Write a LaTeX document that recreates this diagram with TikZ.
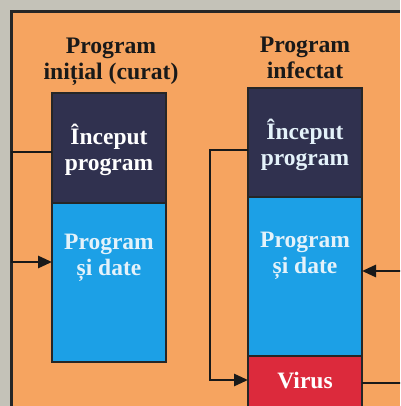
\documentclass[tikz,border=0pt]{standalone}
\usepackage{fontspec}
\setmainfont{Liberation Serif}
\usetikzlibrary{arrows.meta}
\definecolor{bgorange}{HTML}{F6A460}
\definecolor{graystrip}{HTML}{C4C2B8}
\definecolor{navybox}{HTML}{30314F}
\definecolor{bluebox}{HTML}{1CA0E6}
\definecolor{redbox}{HTML}{DC2A3C}
\definecolor{paletext}{HTML}{E4F2FA}
\tikzset{
  box/.style={draw=black!85, line width=1.2pt, minimum width=114pt, inner sep=0pt, outer sep=0pt},
  boxtext/.style={font=\fontsize{23.5}{26}\selectfont\bfseries, align=center, inner sep=0pt},
  title/.style={font=\fontsize{23.7}{26}\selectfont\bfseries, align=center, text=black!90, inner sep=0pt},
  conn/.style={line width=2.8pt, black!90},
  arr/.style={conn, -{Triangle[length=14pt,width=12pt]}}
}
\begin{document}
\begin{tikzpicture}[x=1pt,y=-1pt]
\useasboundingbox (0,0) rectangle (400,406);
\clip (0,0) rectangle (400,406);
% background
\fill[bgorange] (0,0) rectangle (400,406);
\fill[graystrip] (0,0) rectangle (400,10);
\fill[graystrip] (0,0) rectangle (10,406);
\draw[line width=2.5pt, black!85] (11.5,406) -- (11.5,11.5) -- (400,11.5);

% titles
\node[title] (t1) at (111,62) {Program\\ inițial (curat)};
\node[title] (t2) at (305,58) {Program\\ infectat};

% left program boxes
\node[box, fill=navybox, minimum height=110pt] (ld) at (109,148) {};
\node[box, fill=bluebox, minimum height=159pt] (lb) at (109,282.5) {};
\node[boxtext, text=white] (ldt) at (109,150) {Început\\ program};
\node[boxtext, text=paletext] (lbt) at (109,258) {Program\\ și date};

% right program boxes
\node[box, fill=navybox, minimum height=109pt] (rd) at (305,142.5) {};
\node[box, fill=bluebox, minimum height=159pt] (rb) at (305,276.5) {};
\node[box, fill=redbox, minimum height=60pt] (rv) at (305,386) {};
\node[boxtext, text=paletext] (rdt) at (305,145) {Început\\ program};
\node[boxtext, text=paletext] (rbt) at (305,256) {Program\\ și date};
\node[boxtext, text=white] (rvt) at (305,381) {Virus};

% connector coordinates
\coordinate (lc1) at (12,152);
\coordinate (lc2) at (12,262);
\coordinate (rc1) at (210,150);
\coordinate (rc2) at (210,380);
\coordinate (re1) at (402,271);
\coordinate (re2) at (402,383);

% left connector
\draw[arr] (ld.west |- lc1) -- (lc1) -- (lc2) -- (lb.west |- lc2);
% right connectors
\draw[arr] (rd.west |- rc1) -- (rc1) -- (rc2) -- (rv.west |- rc2);
\draw[arr] (re1) -- (rb.east |- re1);
\draw[conn] (rv.east |- re2) -- (re2);
\end{tikzpicture}
\end{document}
